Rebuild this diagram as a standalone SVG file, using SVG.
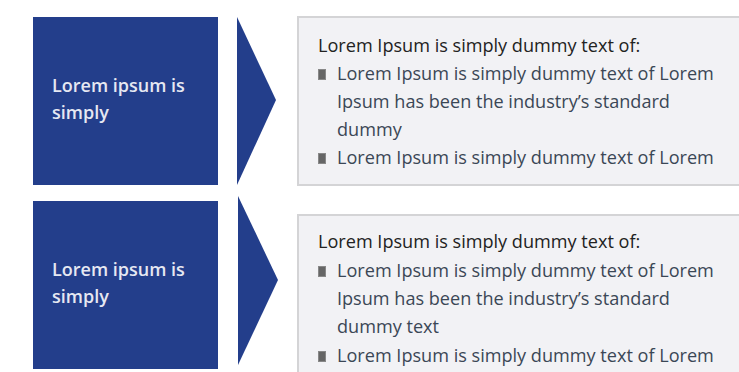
<svg xmlns="http://www.w3.org/2000/svg" width="739" height="372" viewBox="0 0 739 372">
<style>
.blk{fill:#233e8b}
.lbl{font-family:"Open Sans","Liberation Sans",sans-serif;font-size:18px;font-weight:600;fill:#e6e8f2}
.panel{fill:#f2f2f5;stroke:#d4d4d6;stroke-width:2}
.hd{font-family:"Open Sans","Liberation Sans",sans-serif;font-size:18.1px;fill:#222}
.it{font-family:"Open Sans","Liberation Sans",sans-serif;font-size:18.1px;fill:#3b4756}
.bul{fill:#666;stroke:#888;stroke-width:1}
</style>
<rect width="739" height="372" fill="#fff"/>
<g id="node1">
<rect class="blk" x="33" y="17" width="185" height="168"/>
<text class="lbl" x="52" y="92">Lorem ipsum is</text>
<text class="lbl" x="52" y="119">simply</text>
</g>
<g id="connectors">
<polygon class="blk" points="237,17 276,100 237,185"/>
<polygon class="blk" points="238,196 278,280 238,365"/>
</g>
<g id="panel1">
<rect class="panel" x="298" y="17" width="450" height="168"/>
<text class="hd" x="318" y="52">Lorem Ipsum is simply dummy text of:</text>
<rect class="bul" x="318.5" y="69.5" width="7" height="10"/>
<text class="it" x="337" y="80">Lorem Ipsum is simply dummy text of Lorem</text>
<text class="it" x="337" y="108">Ipsum has been the industry’s standard</text>
<text class="it" x="337" y="136">dummy</text>
<rect class="bul" x="318.5" y="153.5" width="7" height="10"/>
<text class="it" x="337" y="164">Lorem Ipsum is simply dummy text of Lorem</text>
</g>
<g id="node2">
<rect class="blk" x="33" y="201" width="185" height="168"/>
<text class="lbl" x="52" y="276">Lorem ipsum is</text>
<text class="lbl" x="52" y="303">simply</text>
</g>
<g id="panel2">
<rect class="panel" x="298" y="215" width="450" height="170"/>
<text class="hd" x="318" y="248">Lorem Ipsum is simply dummy text of:</text>
<rect class="bul" x="318.5" y="266.5" width="7" height="10"/>
<text class="it" x="337" y="277">Lorem Ipsum is simply dummy text of Lorem</text>
<text class="it" x="337" y="305">Ipsum has been the industry’s standard</text>
<text class="it" x="337" y="333">dummy text</text>
<rect class="bul" x="318.5" y="351.5" width="7" height="10"/>
<text class="it" x="337" y="362">Lorem Ipsum is simply dummy text of Lorem</text>
</g>
</svg>
